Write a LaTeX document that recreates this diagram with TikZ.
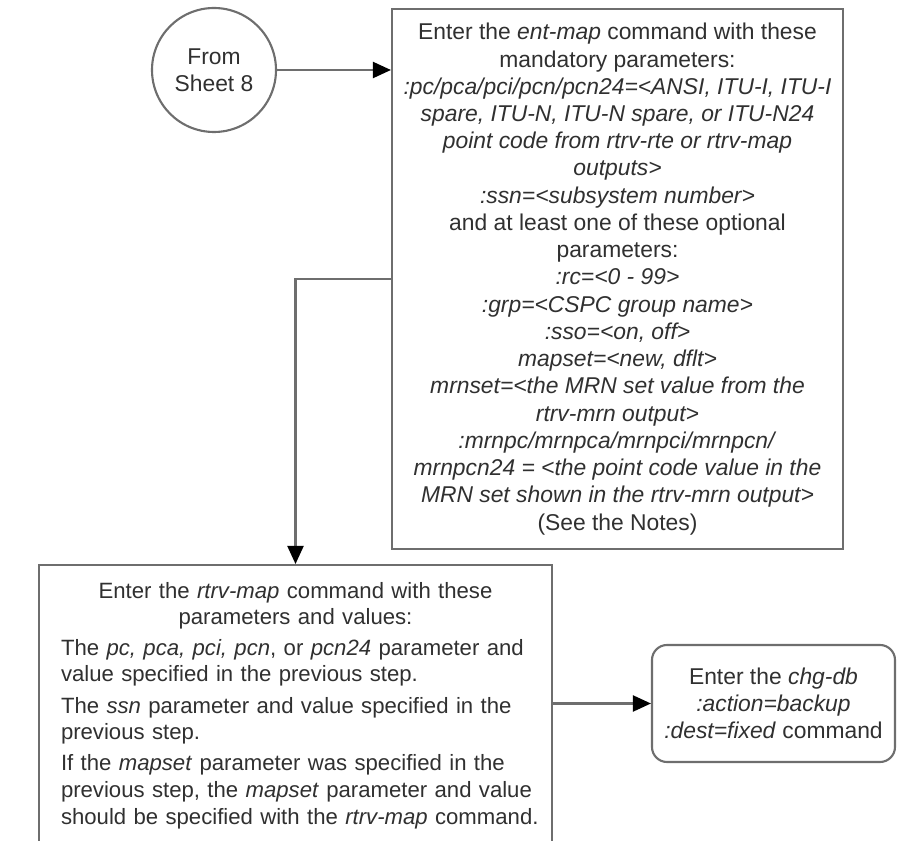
\documentclass[tikz,border=0pt]{standalone}
\usepackage{fontspec}
\setmainfont{Liberation Sans}
\usepackage{tikz}
\usetikzlibrary{arrows.meta,positioning}
\definecolor{sheetline}{HTML}{6E6E6E}
\definecolor{sheettext}{HTML}{303030}

\begin{document}
\begin{tikzpicture}[
  font=\fontsize{13}{15.5}\selectfont,
  text=sheettext,
  stepbox/.style={draw=sheetline,line width=1.2pt,fill=white,align=center,
    inner sep=0pt},
  connector/.style={draw=sheetline,line width=1.2pt,
    -{Triangle[length=0.36cm,width=0.32cm,color=black]}},
  sheetlink/.style={circle,draw=sheetline,line width=1.2pt,align=center,
    minimum size=2.48cm,inner sep=0pt}
]
  \useasboundingbox (0,0) rectangle (17.94,16.82);
  \clip (0,0) rectangle (17.94,16.82);

  \node[sheetlink] (fromsheet) at (4.28,15.42) {From\\Sheet 8};

  \node[stepbox,minimum width=9.02cm,minimum height=10.8cm] (entmap) at (12.35,11.24)
    {Enter the \textit{ent-map} command with these\\
     mandatory parameters:\\
     \textit{:pc/pca/pci/pcn/pcn24=<ANSI, ITU-I, ITU-I}\\
     \textit{spare, ITU-N, ITU-N spare, or ITU-N24}\\
     \textit{point code from rtrv-rte or rtrv-map}\\
     \textit{outputs>}\\
     \textit{:ssn=<subsystem number>}\\
     and at least one of these optional\\
     parameters:\\
     \textit{:rc=<0 - 99>}\\
     \textit{:grp=<CSPC group name>}\\
     \textit{:sso=<on, off>}\\
     \textit{mapset=<new, dflt>}\\
     \textit{mrnset=<the MRN set value from the}\\
     \textit{rtrv-mrn output>}\\
     \textit{:mrnpc/mrnpca/mrnpci/mrnpcn/}\\
     \textit{mrnpcn24 = <the point code value in the}\\
     \textit{MRN set shown in the rtrv-mrn output>}\\
     (See the Notes)};

  \node[stepbox,align=left,text width=10.0cm,inner xsep=0.13cm,
    font=\fontsize{12.6}{15.2}\selectfont,
    minimum height=5.62cm,anchor=north] (rtrvmap) at (5.91,5.54)
    {{\centering Enter the \textit{rtrv-map} command with these\\
      parameters and values:\par}\vspace{2pt}
     \leftskip=0.31cm
     The \textit{pc, pca, pci, pcn}, or \textit{pcn24} parameter and\\
     value specified in the previous step.\\[2.5pt]
     The \textit{ssn} parameter and value specified in the\\
     previous step.\\[2.5pt]
     If the \textit{mapset} parameter was specified in the\\
     previous step, the \textit{mapset} parameter and value\\
     should be specified with the \textit{rtrv-map} command.\par};

  \node[stepbox,rounded corners=0.3cm,minimum width=4.86cm,minimum height=2.34cm]
    (chgdb) at (15.47,2.75)
    {Enter the \textit{chg-db}\\
     \textit{:action=backup}\\
     \textit{:dest=fixed} command};

  \draw[connector] (fromsheet.east) -- (fromsheet.east -| entmap.west);
  \draw[connector] (entmap.west) -| (rtrvmap.north);
  \draw[connector] (chgdb.west -| rtrvmap.east) -- (chgdb.west);
\end{tikzpicture}
\end{document}
